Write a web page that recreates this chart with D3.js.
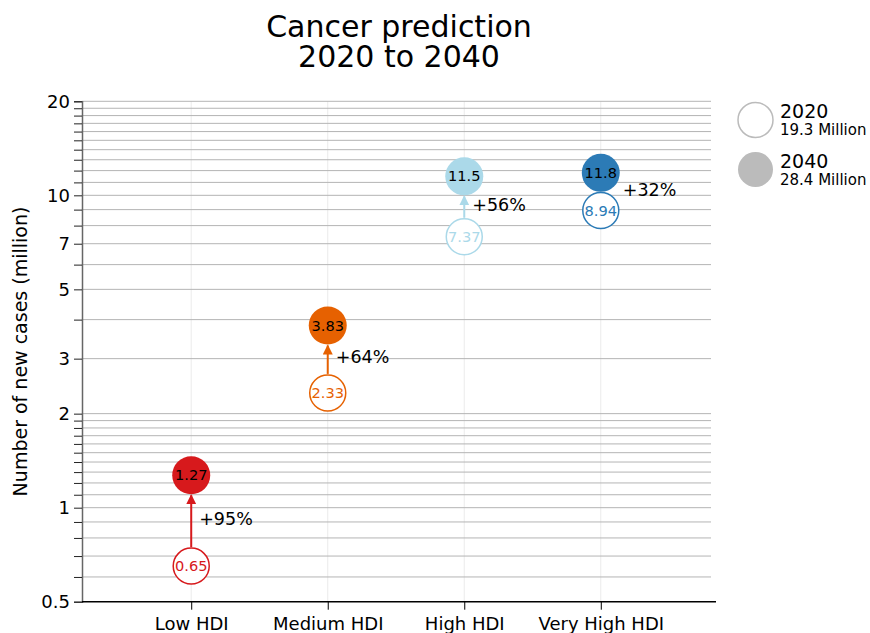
<!DOCTYPE html>
<html>
<head>
<meta charset="utf-8">
<script src="https://cdn.jsdelivr.net/npm/d3@7"></script>
<style>
  body { margin: 0; background: #fff; }
  svg { font-family: "DejaVu Sans", sans-serif; }
</style>
</head>
<body>
<svg id="chart" width="870" height="633"></svg>
<script>
// data
var categories = ["Low HDI", "Medium HDI", "High HDI", "Very High HDI"];
var cases2020 = [0.65, 2.33, 7.37, 8.94];
var cases2040 = [1.27, 3.83, 11.5, 11.8];
var colors = ["#d7191c", "#e66101", "#abd9e9", "#2c7bb6"];
var legendYears = ["2020", "2040"];
var legendTotals = ["19.3 Million", "28.4 Million"];
var yTicks = [0.5, 0.6, 0.7, 0.8, 0.9, 1, 1.1, 1.2, 1.3, 1.4, 1.5, 1.6, 1.7, 1.8, 1.9,
  2, 3, 4, 5, 6, 7, 8, 9, 10, 11, 12, 13, 14, 15, 16, 17, 18, 19, 20];
var yLabels = [0.5, 1, 2, 3, 5, 7, 10, 20];

var svg = d3.select("#chart");
var plotLeft = 82, plotRight = 710, plotTop = 101.3, plotBottom = 601.7;
var r = 18;

var x = d3.scalePoint()
  .domain(categories)
  .range([plotLeft, plotRight])
  .padding(0.8);

var y = d3.scaleLog()
  .domain([0.5, 20])
  .range([plotBottom, plotTop]);

// grid
svg.append("g").selectAll("line")
  .data(categories)
  .enter().append("line")
  .attr("x1", function(d) { return x(d); })
  .attr("x2", function(d) { return x(d); })
  .attr("y1", plotTop).attr("y2", plotBottom)
  .attr("stroke", "#ebebeb").attr("stroke-width", 1);

svg.append("g").selectAll("line")
  .data(yTicks.slice(1))
  .enter().append("line")
  .attr("x1", plotLeft).attr("x2", plotRight + 1)
  .attr("y1", function(d) { return y(d); })
  .attr("y2", function(d) { return y(d); })
  .attr("stroke", "#b4b4b4").attr("stroke-width", 1);

// y axis
var yAxis = d3.axisLeft(y)
  .tickValues(yTicks)
  .tickSize(8)
  .tickPadding(4)
  .tickFormat(function(d) { return yLabels.indexOf(d) >= 0 ? d : ""; });

var gy = svg.append("g")
  .attr("transform", "translate(" + plotLeft + ",0)")
  .call(yAxis)
  .attr("font-family", null).attr("font-size", null);
gy.select(".domain").attr("stroke", "#666").attr("stroke-width", 1.5);
gy.selectAll(".tick line").attr("stroke", "#222");
gy.selectAll("text").style("font-size", "18px").attr("fill", "#000");

// x axis
var xAxis = d3.axisBottom(x).tickSize(8).tickPadding(8).tickSizeOuter(0);
var gx = svg.append("g")
  .attr("transform", "translate(0," + plotBottom + ")")
  .call(xAxis)
  .attr("font-family", null).attr("font-size", null);
gx.select(".domain").attr("d", "M" + plotLeft + ",0H" + (plotRight + 6)).attr("stroke", "#000").attr("stroke-width", 1.5);
gx.selectAll("text").style("font-size", "18px").attr("fill", "#000");

// title
svg.append("text")
  .attr("x", (plotLeft + plotRight + 6) / 2).attr("y", 37)
  .attr("text-anchor", "middle")
  .style("font-size", "30px")
  .text("Cancer prediction");
svg.append("text")
  .attr("x", (plotLeft + plotRight + 6) / 2).attr("y", 67)
  .attr("text-anchor", "middle")
  .style("font-size", "30px")
  .text("2020 to 2040");

// y label
svg.append("text")
  .attr("transform", "translate(27," + ((plotTop + plotBottom) / 2) + ") rotate(-90)")
  .attr("text-anchor", "middle")
  .style("font-size", "19px")
  .text("Number of new cases (million)");

// arrow markers
var defs = svg.append("defs");
colors.forEach(function(c, i) {
  defs.append("marker")
    .attr("id", "arrow" + i)
    .attr("viewBox", "0 0 10 10")
    .attr("refX", 9).attr("refY", 5)
    .attr("markerWidth", 10).attr("markerHeight", 10)
    .attr("markerUnits", "userSpaceOnUse")
    .attr("orient", "auto")
    .append("path")
    .attr("d", "M0,0L10,5L0,10Z")
    .attr("fill", c);
});

var rows = categories.map(function(c, i) {
  return { cat: c, a: cases2020[i], b: cases2040[i], color: colors[i], i: i };
});

var g = svg.append("g");

rows.forEach(function(d) {
  var cx = x(d.cat);
  var ya = y(d.a), yb = y(d.b);
  var gap = (ya - yb) - 2 * r;

  if (gap > 8) {
    g.append("line")
      .attr("x1", cx).attr("x2", cx)
      .attr("y1", ya - r - 1).attr("y2", yb + r + 2)
      .attr("stroke", d.color).attr("stroke-width", 2)
      .attr("marker-end", "url(#arrow" + d.i + ")");
  }

  g.append("circle")
    .attr("cx", cx).attr("cy", ya).attr("r", r)
    .attr("fill", "#fff").attr("stroke", d.color).attr("stroke-width", 1.5);
  g.append("text")
    .attr("x", cx).attr("y", ya)
    .attr("text-anchor", "middle").attr("dy", "0.35em")
    .style("font-size", "14.6px")
    .attr("fill", d.color)
    .text(d.a);

  g.append("circle")
    .attr("cx", cx).attr("cy", yb).attr("r", r + 1)
    .attr("fill", d.color);
  g.append("text")
    .attr("x", cx).attr("y", yb)
    .attr("text-anchor", "middle").attr("dy", "0.35em")
    .style("font-size", "14.6px")
    .attr("fill", "#000")
    .text(d.b);

  var pct = Math.round((d.b / d.a - 1) * 100);
  g.append("text")
    .attr("x", gap > 8 ? cx + 8 : cx + r + 4)
    .attr("y", (ya + yb) / 2 - 2)
    .attr("dy", "0.35em")
    .style("font-size", "17.5px")
    .text("+" + pct + "%");
});

// legend
var legend = svg.append("g").attr("transform", "translate(755.5,120)");
legendYears.forEach(function(yr, i) {
  var lg = legend.append("g").attr("transform", "translate(0," + (i * 49.5) + ")");
  lg.append("circle")
    .attr("r", 17.5)
    .attr("fill", i === 0 ? "#fff" : "#bbb")
    .attr("stroke", i === 0 ? "#bbb" : "none")
    .attr("stroke-width", 1.5);
  lg.append("text")
    .attr("x", 24.5).attr("y", -2)
    .style("font-size", "19px")
    .text(yr);
  lg.append("text")
    .attr("x", 24.5).attr("y", 15)
    .style("font-size", "15px")
    .text(legendTotals[i]);
});
</script>
</body>
</html>
